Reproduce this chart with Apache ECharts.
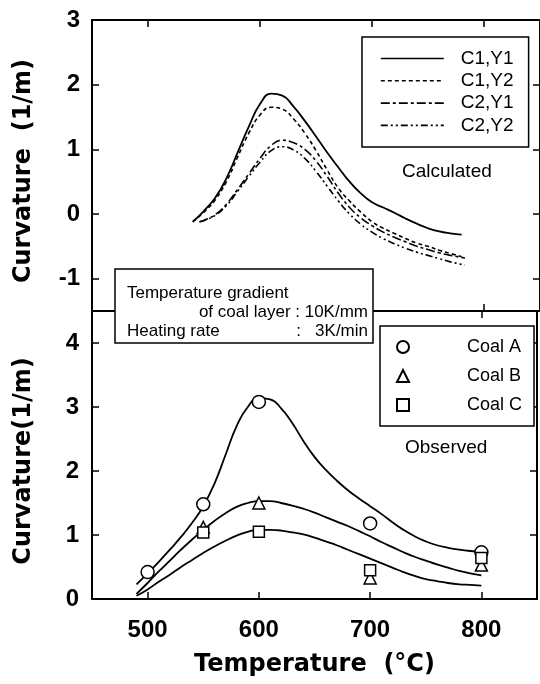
<!DOCTYPE html>
<html>
<head>
<meta charset="utf-8">
<script src="https://cdn.jsdelivr.net/npm/echarts@6/dist/echarts.min.js"></script>
<style>
html, body { margin: 0; padding: 0; background: #fff; }
#main { width: 540px; height: 684px; }
</style>
</head>
<body>
<div id="main"></div>
<script>
// calculated curves (upper panel)
var calcT1 = [540, 550, 560, 570, 580, 590, 600, 610, 620, 630, 640, 650, 660, 670, 680, 690, 700, 710, 720, 730, 740, 750, 760, 770, 780];
var calcT2 = [546, 550, 560, 570, 580, 590, 600, 610, 620, 630, 640, 650, 660, 670, 680, 690, 700, 710, 720, 730, 740, 750, 760, 770, 783];
var c1y1 = [-0.12, 0.05, 0.25, 0.55, 0.95, 1.35, 1.7, 1.86, 1.83, 1.66, 1.44, 1.2, 0.95, 0.72, 0.5, 0.32, 0.18, 0.1, 0.02, -0.07, -0.15, -0.22, -0.27, -0.3, -0.32];
var c1y2 = [-0.12, 0.03, 0.22, 0.5, 0.88, 1.25, 1.53, 1.65, 1.62, 1.47, 1.25, 0.98, 0.68, 0.4, 0.2, 0.03, -0.12, -0.22, -0.3, -0.38, -0.45, -0.5, -0.56, -0.61, -0.66];
var c2y1 = [-0.12, -0.1, -0.01, 0.15, 0.38, 0.62, 0.86, 1.06, 1.14, 1.1, 1.0, 0.82, 0.58, 0.32, 0.1, -0.06, -0.18, -0.28, -0.36, -0.43, -0.5, -0.55, -0.6, -0.64, -0.68];
var c2y2 = [-0.12, -0.1, -0.02, 0.13, 0.35, 0.58, 0.8, 0.98, 1.04, 0.99, 0.86, 0.66, 0.43, 0.2, 0.0, -0.16, -0.28, -0.38, -0.46, -0.53, -0.59, -0.64, -0.69, -0.74, -0.79];

// fitted curves through observed data (lower panel)
var fitT = [490, 500, 510, 520, 530, 540, 550, 560, 570, 580, 590, 600, 610, 620, 630, 640, 650, 660, 670, 680, 690, 700, 710, 720, 730, 740, 750, 760, 770, 780, 790, 800];
var fitA = [0.23, 0.4, 0.58, 0.77, 0.97, 1.19, 1.45, 1.8, 2.25, 2.7, 3.0, 3.14, 3.12, 2.98, 2.75, 2.47, 2.22, 2.02, 1.85, 1.7, 1.57, 1.45, 1.33, 1.2, 1.08, 0.98, 0.9, 0.84, 0.8, 0.77, 0.75, 0.74];
var fitB = [0.08, 0.25, 0.43, 0.6, 0.77, 0.93, 1.08, 1.22, 1.34, 1.44, 1.5, 1.53, 1.53, 1.5, 1.46, 1.41, 1.35, 1.28, 1.21, 1.14, 1.06, 0.98, 0.89, 0.81, 0.73, 0.66, 0.6, 0.54, 0.49, 0.44, 0.4, 0.37];
var fitC = [0.05, 0.15, 0.27, 0.38, 0.5, 0.61, 0.72, 0.82, 0.91, 0.99, 1.05, 1.08, 1.08, 1.07, 1.04, 1.01, 0.96, 0.9, 0.84, 0.77, 0.7, 0.63, 0.56, 0.49, 0.42, 0.36, 0.31, 0.28, 0.25, 0.23, 0.22, 0.21];

// observed points
var obsT = [500, 550, 600, 700, 800];
var coalA = [0.42, 1.48, 3.08, 1.18, 0.73];
var coalB = [null, 1.12, 1.5, 0.33, 0.53];
var coalC = [null, 1.04, 1.05, 0.45, 0.64];

// tick labels
var xLabels = [500, 600, 700, 800];
var yTopLabels = [-1, 0, 1, 2, 3];
var yBotLabels = [0, 1, 2, 3, 4];

function pairs(xs, ys) {
    var out = [];
    for (var i = 0; i < xs.length; i++) {
        if (ys[i] != null) out.push([xs[i], ys[i]]);
    }
    return out;
}

var chart = echarts.init(document.getElementById('main'), null, { renderer: 'canvas' });

var frameLine = { show: true, onZero: false, lineStyle: { color: '#000', width: 2 } };
var inTick = { show: true, inside: true, length: 7, lineStyle: { color: '#000', width: 1.5 } };
var tickFont = { color: '#000', fontFamily: 'Liberation Sans', fontWeight: 'bold', fontSize: 24 };
var titleFont = { color: '#000', fontFamily: 'DejaVu Sans', fontWeight: 'bold', fontSize: 24 };
var noFill = { color: 'rgba(0,0,0,0)', borderColor: 'rgba(0,0,0,0)', borderWidth: 0 };

function xAx(grid, pos, labels) {
    return {
        type: 'value', gridIndex: grid, position: pos, min: 450, max: 850, splitNumber: 4,
        axisLine: frameLine, axisTick: inTick, splitLine: { show: false },
        axisLabel: labels ? Object.assign({
            margin: 19,
            formatter: function (v) { return xLabels.indexOf(v) >= 0 ? String(v) : ''; }
        }, tickFont) : { show: false }
    };
}

var option = {
    backgroundColor: '#fff',
    animation: false,
    grid: [
        { left: 92, top: 20, width: 449, height: 291 },
        { left: 92, top: 311, width: 449, height: 288 }
    ],
    xAxis: [
        xAx(0, 'bottom', false),
        xAx(0, 'top', false),
        Object.assign(xAx(1, 'bottom', true), {
            name: 'Temperature  (°C)', nameLocation: 'middle', nameGap: 54,
            nameTextStyle: titleFont
        }),
        xAx(1, 'top', false)
    ],
    yAxis: [
        {
            type: 'value', gridIndex: 0, position: 'left', min: -1.5, max: 3, splitNumber: 4,
            axisLine: frameLine, axisTick: inTick, splitLine: { show: false },
            axisLabel: Object.assign({
                margin: 12,
                formatter: function (v) { return yTopLabels.indexOf(v) >= 0 ? String(v) : ''; }
            }, tickFont),
            name: 'Curvature  (1/m)', nameLocation: 'middle', nameGap: 56,
            nameTextStyle: Object.assign({ padding: [0, 11, 0, 0] }, titleFont)
        },
        {
            type: 'value', gridIndex: 0, position: 'right', min: -1.5, max: 3, splitNumber: 4,
            axisLine: frameLine, axisTick: inTick, splitLine: { show: false }, axisLabel: { show: false }
        },
        {
            type: 'value', gridIndex: 1, position: 'left', min: 0, max: 4.5, interval: 1,
            axisLine: frameLine, axisTick: inTick, splitLine: { show: false },
            axisLabel: Object.assign({
                margin: 13,
                formatter: function (v) { return yBotLabels.indexOf(v) >= 0 ? String(v) : ''; }
            }, tickFont),
            name: 'Curvature(1/m)', nameLocation: 'middle', nameGap: 56,
            nameTextStyle: Object.assign({ padding: [0, 12, 0, 0] }, titleFont)
        },
        {
            type: 'value', gridIndex: 1, position: 'right', min: 0, max: 4.5, interval: 1,
            axisLine: frameLine, axisTick: inTick, splitLine: { show: false }, axisLabel: { show: false }
        }
    ],
    legend: [
        {
            data: ['C1,Y1', 'C1,Y2', 'C2,Y1', 'C2,Y2'],
            orient: 'vertical', left: 362, top: 37,
            padding: [12, 15, 12, 18],
            itemWidth: 63, itemHeight: 14, itemGap: 3.3,
            selectedMode: false,
            backgroundColor: '#fff', borderColor: '#000', borderWidth: 1.5, borderRadius: 0,
            itemStyle: noFill,
            lineStyle: { width: 1.6 },
            textStyle: { color: '#000', fontFamily: 'Liberation Sans', fontSize: 19, padding: [0, 0, 0, 12] }
        },
        {
            data: ['Coal A', 'Coal B', 'Coal C'],
            orient: 'vertical', left: 380, top: 326,
            padding: [12, 12, 12, 16],
            itemWidth: 12, itemHeight: 12, itemGap: 11,
            selectedMode: false,
            backgroundColor: '#fff', borderColor: '#000', borderWidth: 1.5, borderRadius: 0,
            textStyle: { color: '#000', fontFamily: 'Liberation Sans', fontSize: 18, lineHeight: 16, padding: [0, 0, 0, 53] }
        }
    ],
    graphic: [
        { type: 'text', left: 402, top: 162, z: 100,
          style: { text: 'Calculated', fill: '#000', font: '19px "Liberation Sans"' } },
        { type: 'text', left: 405, top: 438, z: 100,
          style: { text: 'Observed', fill: '#000', font: '19px "Liberation Sans"' } },
        { type: 'rect', z: 100, shape: { x: 115, y: 269, width: 258, height: 74 },
          style: { fill: '#fff', stroke: '#000', lineWidth: 1.5 } },
        { type: 'text', z: 101, x: 127, y: 293,
          style: { text: 'Temperature gradient', fill: '#000', font: '17px "Liberation Sans"', verticalAlign: 'middle' } },
        { type: 'text', z: 101, x: 368, y: 312,
          style: { text: 'of coal layer : 10K/mm', fill: '#000', font: '17px "Liberation Sans"', align: 'right', verticalAlign: 'middle' } },
        { type: 'text', z: 101, x: 127, y: 331,
          style: { text: 'Heating rate', fill: '#000', font: '17px "Liberation Sans"', verticalAlign: 'middle' } },
        { type: 'text', z: 101, x: 368, y: 331,
          style: { text: ':   3K/min', fill: '#000', font: '17px "Liberation Sans"', align: 'right', verticalAlign: 'middle' } }
    ],
    series: [
        { name: 'C1,Y1', type: 'line', xAxisIndex: 0, yAxisIndex: 0, data: pairs(calcT1, c1y1),
          smooth: 0.5, symbol: 'none', lineStyle: { color: '#000', width: 1.8, type: 'solid' }, itemStyle: { color: '#000' } },
        { name: 'C1,Y2', type: 'line', xAxisIndex: 0, yAxisIndex: 0, data: pairs(calcT1, c1y2),
          smooth: 0.5, symbol: 'none', lineStyle: { color: '#000', width: 1.6, type: [4, 3] }, itemStyle: { color: '#000' } },
        { name: 'C2,Y1', type: 'line', xAxisIndex: 0, yAxisIndex: 0, data: pairs(calcT2, c2y1),
          smooth: 0.5, symbol: 'none', lineStyle: { color: '#000', width: 1.6, type: [9, 3, 3, 3] }, itemStyle: { color: '#000' } },
        { name: 'C2,Y2', type: 'line', xAxisIndex: 0, yAxisIndex: 0, data: pairs(calcT2, c2y2),
          smooth: 0.5, symbol: 'none', lineStyle: { color: '#000', width: 1.6, type: [7, 3, 2, 3, 2, 3] }, itemStyle: { color: '#000' } },

        { name: 'fitA', type: 'line', xAxisIndex: 2, yAxisIndex: 2, data: pairs(fitT, fitA),
          smooth: 0.5, symbol: 'none', lineStyle: { color: '#000', width: 1.8 } },
        { name: 'fitB', type: 'line', xAxisIndex: 2, yAxisIndex: 2, data: pairs(fitT, fitB),
          smooth: 0.5, symbol: 'none', lineStyle: { color: '#000', width: 1.8 } },
        { name: 'fitC', type: 'line', xAxisIndex: 2, yAxisIndex: 2, data: pairs(fitT, fitC),
          smooth: 0.5, symbol: 'none', lineStyle: { color: '#000', width: 1.8 } },

        { name: 'Coal A', type: 'scatter', xAxisIndex: 2, yAxisIndex: 2, z: 5, data: pairs(obsT, coalA),
          symbol: 'circle', symbolSize: 13, itemStyle: { color: '#fff', borderColor: '#000', borderWidth: 1.5, opacity: 1 } },
        { name: 'Coal B', type: 'scatter', xAxisIndex: 2, yAxisIndex: 2, z: 5, data: pairs(obsT, coalB),
          symbol: 'triangle', symbolSize: 12, itemStyle: { color: '#fff', borderColor: '#000', borderWidth: 1.5, opacity: 1 } },
        { name: 'Coal C', type: 'scatter', xAxisIndex: 2, yAxisIndex: 2, z: 5, data: pairs(obsT, coalC),
          symbol: 'rect', symbolSize: 11, itemStyle: { color: '#fff', borderColor: '#000', borderWidth: 1.5, opacity: 1 } }
    ]
};

chart.setOption(option);
</script>
</body>
</html>
